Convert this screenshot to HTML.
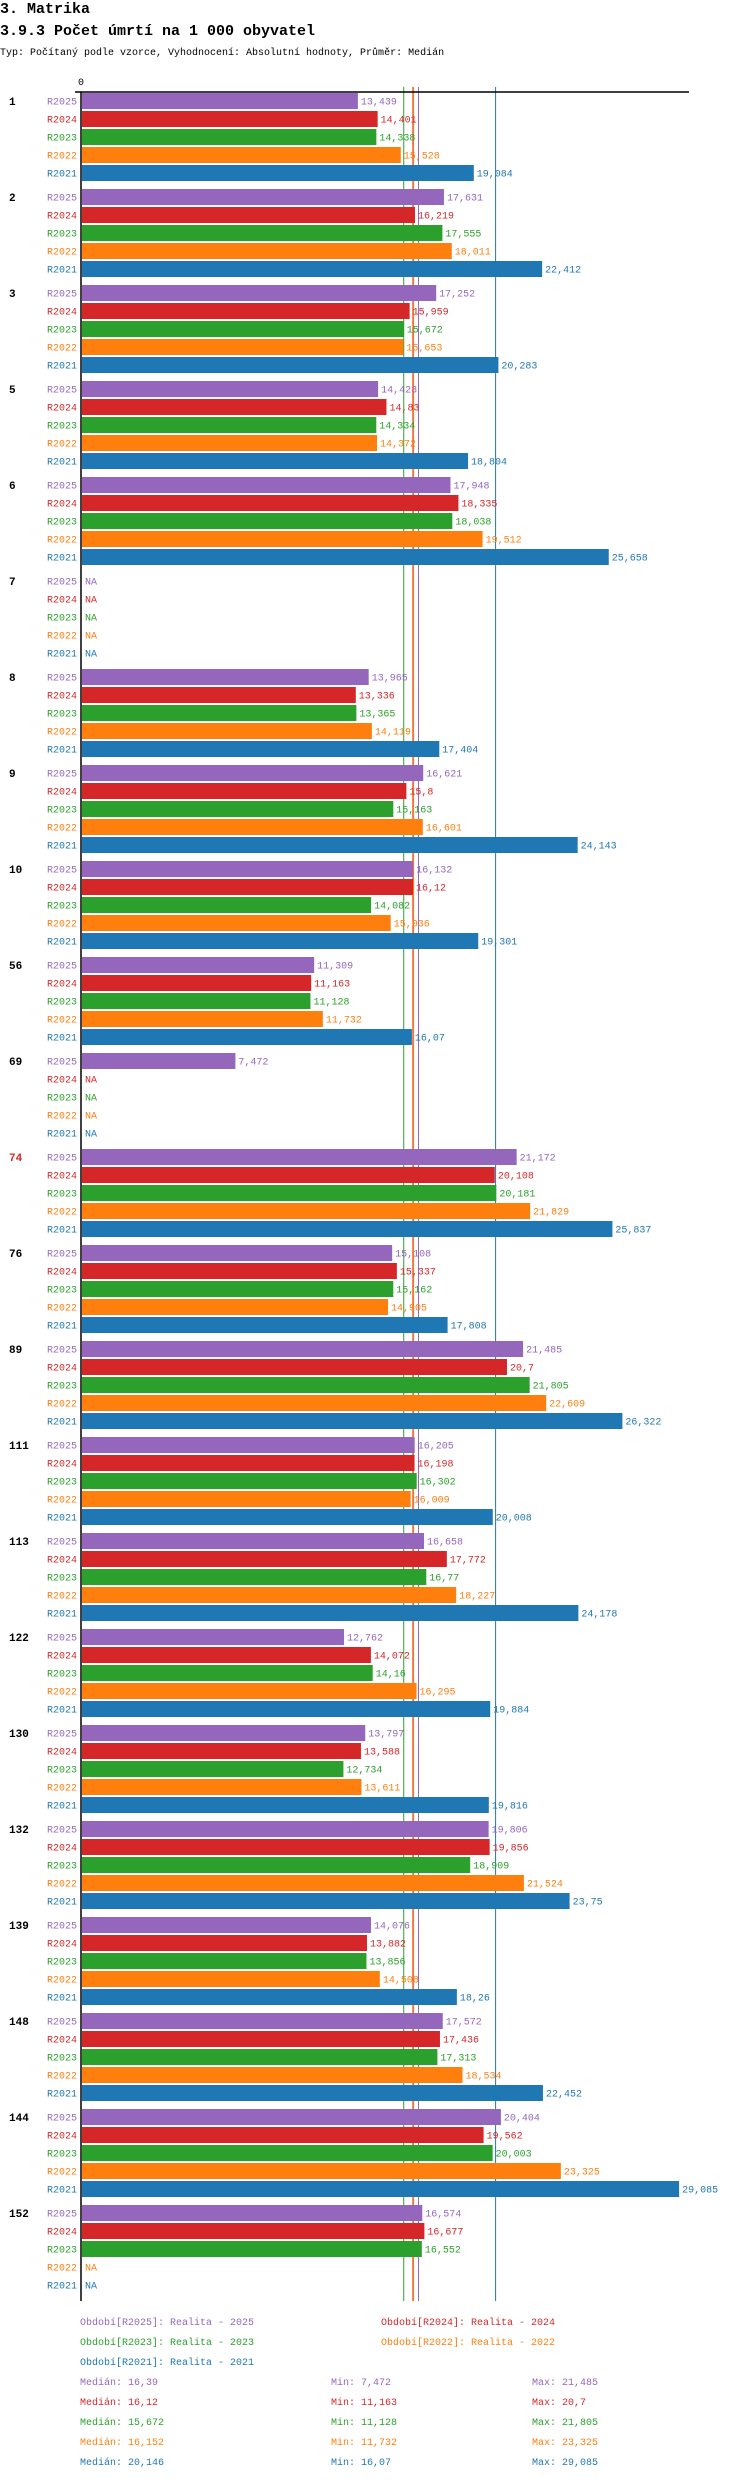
<!DOCTYPE html>
<html><head><meta charset="utf-8"><style>
body{margin:0;background:#fff;width:750px;height:2480px;overflow:hidden}
svg{display:block;font-family:"Liberation Mono",monospace}
</style></head><body>
<svg id="chart" width="750" height="2480" viewBox="0 0 750 2480" xmlns="http://www.w3.org/2000/svg">
<text x="0" y="13" font-size="15" font-weight="bold">3. Matrika</text>
<text x="0" y="35" font-size="15" font-weight="bold">3.9.3 Počet úmrtí na 1 000 obyvatel</text>
<text x="0" y="55" font-size="10">Typ: Počítaný podle vzorce, Vyhodnocení: Absolutní hodnoty, Průměr: Medián</text>
<text x="81" y="85" font-size="10" text-anchor="middle">0</text>
<g id="medians"></g><g id="bars"></g>
<line x1="75" y1="92" x2="689" y2="92" stroke="#000" stroke-width="1.5"/>
<line x1="81" y1="92" x2="81" y2="2301" stroke="#000" stroke-width="1.5"/>
<g id="legend"></g>
</svg>
<script>
const groups=["1","2","3","5","6","7","8","9","10","56","69","74","76","89","111","113","122","130","132","139","148","144","152"];
const series=["R2025","R2024","R2023","R2022","R2021"];
const colors=["#9467bd","#d62728","#2ca02c","#ff7f0e","#1f77b4"];
const v2025=[13.439,17.631,17.252,14.423,17.948,null,13.965,16.621,16.132,11.309,7.472,21.172,15.108,21.485,16.205,16.658,12.762,13.797,19.806,14.076,17.572,20.404,16.574];
const v2024=[14.401,16.219,15.959,14.83,18.335,null,13.336,15.8,16.12,11.163,null,20.108,15.337,20.7,16.198,17.772,14.072,13.588,19.856,13.882,17.436,19.562,16.677];
const v2023=[14.338,17.555,15.672,14.334,18.038,null,13.365,15.163,14.082,11.128,null,20.181,15.162,21.805,16.302,16.77,14.16,12.734,18.909,13.856,17.313,20.003,16.552];
const v2022=[15.528,18.011,15.653,14.372,19.512,null,14.119,16.601,15.036,11.732,null,21.829,14.905,22.609,16.009,18.227,16.295,13.611,21.524,14.508,18.534,23.325,null];
const v2021=[19.084,22.412,20.283,18.804,25.658,null,17.404,24.143,19.301,16.07,null,25.837,17.808,26.322,20.008,24.178,19.884,19.816,23.75,18.26,22.452,29.085,null];
const medians=[16.39,16.12,15.672,16.152,20.146];
const mins=["7,472","11,163","11,128","11,732","16,07"];
const maxs=["21,485","20,7","21,805","23,325","29,085"];
const legendLabels=["Období[R2025]: Realita - 2025","Období[R2024]: Realita - 2024","Období[R2023]: Realita - 2023","Období[R2022]: Realita - 2022","Období[R2021]: Realita - 2021"];
const highlight=["74"];
const allVals=[v2025,v2024,v2023,v2022,v2021];
const NS="http://www.w3.org/2000/svg";
const X0=82,SCALE=20.53,Y0=101,ROW=18,GROUP=96,BH=16;
const x=v=>X0+v*SCALE;
const fmt=v=>String(v).replace('.',',');
function mk(tag,attrs,parent,text){const e=document.createElementNS(NS,tag);for(const k in attrs)e.setAttribute(k,attrs[k]);if(text!==undefined)e.textContent=text;parent.appendChild(e);return e;}
const gm=document.getElementById('medians'),gb=document.getElementById('bars'),gl=document.getElementById('legend');
medians.forEach((m,i)=>{const l=mk('line',{x1:x(m),x2:x(m),y1:87,y2:2301,stroke:colors[i],'stroke-width':1},gm);

});
groups.forEach((g,gi)=>{const gy=Y0+gi*GROUP;
const gt=mk('text',{x:9,y:gy+4,'font-size':11,'font-weight':'bold',fill:highlight.includes(g)?'#d62728':'#000'},gb,g);


series.forEach((s,si)=>{const cy=gy+si*ROW,v=allVals[si][gi];
const sl=mk('text',{x:77,y:cy+3.5,'font-size':10,'text-anchor':'end',fill:colors[si]},gb,s);


if(v===null){const na=mk('text',{x:85,y:cy+3.5,'font-size':10,fill:colors[si]},gb,'NA');

return;}
const r=mk('rect',{x:X0,y:cy-BH/2,width:v*SCALE,height:BH,fill:colors[si]},gb);


const vl=mk('text',{x:x(v)+3,y:cy+3.5,'font-size':10,fill:colors[si]},gb,fmt(v));

});});
const legPos=[[80,2325],[381,2325],[80,2345],[381,2345],[80,2365]];
legendLabels.forEach((t,i)=>{const e=mk('text',{x:legPos[i][0],y:legPos[i][1],'font-size':10,fill:colors[i]},gl,t);

});
medians.forEach((m,i)=>{const y=2385+i*20;
const a=mk('text',{x:80,y:y,'font-size':10,fill:colors[i]},gl,'Medián: '+fmt(m));


const b=mk('text',{x:331,y:y,'font-size':10,fill:colors[i]},gl,'Min: '+mins[i]);


const c=mk('text',{x:532,y:y,'font-size':10,fill:colors[i]},gl,'Max: '+maxs[i]);

});
</script>
</body></html>
